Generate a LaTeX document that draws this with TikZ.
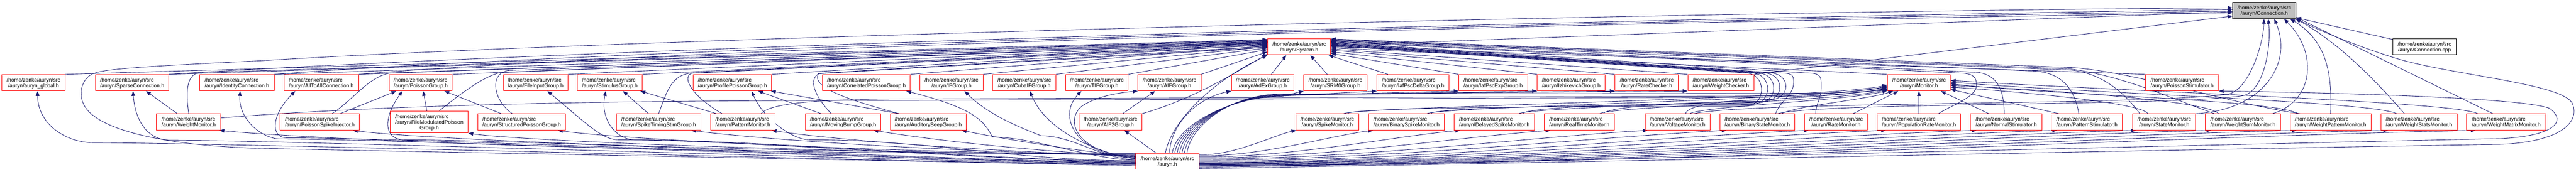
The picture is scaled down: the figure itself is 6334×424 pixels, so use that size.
\documentclass[tikz,border=0pt]{standalone}
\usepackage{fontspec}
\setmainfont{Liberation Sans}
\usetikzlibrary{arrows.meta}
\definecolor{edgec}{HTML}{191970}
\definecolor{boxred}{HTML}{FF0000}
\definecolor{grayf}{HTML}{BFBFBF}
\pgfdeclarelayer{bgl}
\pgfdeclarelayer{edgel}
\pgfsetlayers{bgl,edgel,main}
\newcommand{\lbl}[1]{\raisebox{-2pt}[\height][\depth]{\begin{tabular}{@{}c@{}}\multicolumn{1}{@{}l@{}}{/home/zenke/auryn/src}\\#1\end{tabular}}}
\newcommand{\nd}[6][rbox]{\node[#1,minimum width=#5pt] (#2) at (#3,#4) {\lbl{#6}};}
\tikzset{
 rbox/.style={draw=boxred, fill=white, line width=1.2pt, inner sep=0pt, minimum height=40pt, font=\fontsize{13}{14}\selectfont},
 gbox/.style={rbox, draw=black, fill=grayf},
 kbox/.style={rbox, draw=black},
 ed/.style={draw=edgec, line width=1.1pt, -{Triangle[length=12pt,width=9pt]}},
}
\begin{document}
\begin{tikzpicture}[x=1pt,y=-1pt]
\useasboundingbox (0,0) rectangle (6334,424);
\begin{pgfonlayer}{bgl}
\fill[white] (0,0) rectangle (6334,424);
\end{pgfonlayer}
% ---------- nodes
\nd[gbox]{cn}{5567.5}{26}{155}{/auryn/Connection.h}
\nd{sys}{3194.5}{115.5}{155}{/auryn/System.h}
\nd[kbox]{cpp}{5961.5}{115}{155}{/auryn/Connection.cpp}
% row A
\nd{glob}{82.5}{204}{155}{/auryn/auryn\_global.h}
\nd{sparse}{325}{204}{180}{/auryn/SparseConnection.h}
\nd{ident}{582.5}{204}{183}{/auryn/IdentityConnection.h}
\nd{a2a}{790}{204}{184}{/auryn/AllToAllConnection.h}
\nd{pois}{1034.5}{204}{155}{/auryn/PoissonGroup.h}
\nd{fin}{1317}{204}{158}{/auryn/FileInputGroup.h}
\nd{stim}{1499.5}{204}{159}{/auryn/StimulusGroup.h}
\nd{prof}{1801}{204}{192}{/auryn/ProfilePoissonGroup.h}
\nd{corr}{2130.5}{204}{215}{/auryn/CorrelatedPoissonGroup.h}
\nd{ifg}{2339.5}{204}{155}{/auryn/IFGroup.h}
\nd{cuba}{2518.5}{204}{155}{/auryn/CubaIFGroup.h}
\nd{tif}{2697}{204}{154}{/auryn/TIFGroup.h}
\nd{aif}{2875.5}{204}{155}{/auryn/AIFGroup.h}
\nd{adex}{3105}{204}{154}{/auryn/AdExGroup.h}
\nd{srm}{3283.5}{204}{155}{/auryn/SRM0Group.h}
\nd{ipd}{3474.5}{204}{177}{/auryn/IafPscDeltaGroup.h}
\nd{ipe}{3671.5}{204}{169}{/auryn/IafPscExpGroup.h}
\nd{izh}{3863.5}{204}{167}{/auryn/IzhikevichGroup.h}
\nd{rchk}{4049}{204}{156}{/auryn/RateChecker.h}
\nd{wchk}{4231.5}{204}{163}{/auryn/WeightChecker.h}
\nd{mon}{4718.5}{204}{155}{/auryn/Monitor.h}
\nd{pstim}{5365.5}{204}{179}{/auryn/PoissonStimulator.h}
% row B
\nd{wmon}{464}{301}{158}{/auryn/WeightMonitor.h}
\nd{psi}{786.5}{301}{195}{/auryn/PoissonSpikeInjector.h}
\node[rbox, minimum width=191pt, minimum height=54pt] (fmp) at (1055.5,301) {\raisebox{-2pt}[\height][\depth]{\begin{tabular}{@{}c@{}}\multicolumn{1}{@{}l@{}}{/home/zenke/auryn/src}\\/auryn/FileModulatedPoisson\\Group.h\end{tabular}}};
\nd{spg}{1282.5}{301}{215}{/auryn/StructuredPoissonGroup.h}
\nd{stsg}{1619.5}{301}{207}{/auryn/SpikeTimingStimGroup.h}
\nd{patm}{1826.5}{301}{159}{/auryn/PatternMonitor.h}
\nd{mbg}{2073}{301}{184}{/auryn/MovingBumpGroup.h}
\nd{abg}{2282.5}{301}{187}{/auryn/AuditoryBeepGroup.h}
\nd{aif2}{2730.5}{301}{155}{/auryn/AIF2Group.h}
\nd{smon}{3263.5}{301}{155}{/auryn/SpikeMonitor.h}
\nd{bsm}{3458.5}{301}{187}{/auryn/BinarySpikeMonitor.h}
\nd{dsm}{3674.5}{301}{197}{/auryn/DelayedSpikeMonitor.h}
\nd{rtm}{3883.5}{301}{173}{/auryn/RealTimeMonitor.h}
\nd{vmon}{4125}{301}{160}{/auryn/VoltageMonitor.h}
\nd{bstm}{4321}{301}{184}{/auryn/BinaryStateMonitor.h}
\nd{rmon}{4514.5}{301}{155}{/auryn/RateMonitor.h}
\nd{prm}{4718.5}{301}{205}{/auryn/PopulationRateMonitor.h}
\nd{nstim}{4933}{301}{176}{/auryn/NormalStimulator.h}
\nd{patst}{5131.5}{301}{175}{/auryn/PatternStimulator.h}
\nd{stmon}{5321.5}{301}{155}{/auryn/StateMonitor.h}
\nd{wsum}{5515}{301}{184}{/auryn/WeightSumMonitor.h}
\nd{wpat}{5730.5}{301}{199}{/auryn/WeightPatternMonitor.h}
\nd{wstat}{5948}{301}{188}{/auryn/WeightStatsMonitor.h}
\nd{wmat}{6162.5}{301}{195}{/auryn/WeightMatrixMonitor.h}
% bottom
\nd{au}{2870.5}{398}{155}{/auryn.h}
% ---------- edges
\begin{pgfonlayer}{edgel}
% to Connection.h
\draw[ed] (sys) -- (cn);
\draw[ed] (cpp) -- (cn);
\draw[ed] (sparse.north east) .. controls (900,150) and (3000,62) .. (cn.178);
\draw[ed] (ident.north east) .. controls (1200,142) and (3100,64) .. (cn.181);
\draw[ed] (a2a.north east) .. controls (1500,132) and (3300,64) .. (cn.184);
\draw[ed] (wchk.north east) -- (cn.190);
\draw[ed] ([xshift=40pt]vmon.north) .. controls (4300,250) and (5300,260) .. (5480,232) .. controls (5530,220) and (5565,110) .. (cn.-92);
\draw[ed] ([xshift=50pt]bstm.north) .. controls (4480,252) and (5350,262) .. (5515,236) .. controls (5565,226) and (5585,120) .. (cn.-65);
\draw[ed] (stmon.north east) .. controls (5560,272) and (5640,160) .. (cn.-40);
\draw[ed] ([xshift=-20pt]wsum.north east) .. controls (5690,250) and (5700,130) .. (cn.-23);
\draw[ed] (wpat.north) .. controls (5735,180) and (5720,100) .. (cn.-18);
\draw[ed] ([xshift=-36pt]wstat.north) .. controls (5860,220) and (5760,110) .. (cn.-15);
\draw[ed] ([xshift=-33pt]wmat.north) -- (cn.-12);
\draw[ed] (au.188) .. controls (2000,392) and (900,372) .. (640,366) .. controls (420,360) and (250,325) .. (210,265) .. controls (190,235) and (200,195) .. (228,182) .. controls (255,172) and (300,166) .. (640,150) .. controls (1500,96) and (4000,30) .. (cn.175);
\draw[ed] (au.-13) .. controls (4000,398) and (5300,370) .. (6150,356) .. controls (6290,350) and (6345,305) .. (6325,255) .. controls (6300,205) and (6020,185) .. (5885,142) .. controls (5800,115) and (5700,75) .. (cn.-14);
\draw[ed] (au.-11) .. controls (4000,394) and (5300,360) .. (6150,342) .. controls (6280,335) and (6312,300) .. (6270,268) .. controls (6210,240) and (5700,228) .. (pstim.south east);
% row A to System.h
\draw[ed] (glob.north east) -- (sys.167);
\draw[ed] (sparse.north east) -- (sys.169);
\draw[ed] (ident.north east) -- (sys.170);
\draw[ed] (a2a.north east) -- (sys.171);
\draw[ed] (pois.north east) -- (sys.172);
\draw[ed] (fin.north east) -- (sys.173);
\draw[ed] (stim.north east) -- (sys.174);
\draw[ed] (prof.north east) -- (sys.176);
\draw[ed] (corr.north east) -- (sys.178);
\draw[ed] (ifg.north east) -- (sys.180);
\draw[ed] (cuba.north east) -- (sys.182);
\draw[ed] (tif.north east) -- (sys.185);
\draw[ed] (aif.north east) -- (sys.189);
\draw[ed] ([xshift=21pt]adex.north) -- (sys.213);
\draw[ed] ([xshift=-20pt]srm.north) -- (sys.-37);
\draw[ed] ([xshift=-62pt]ipd.north) -- (sys.-16);
\draw[ed] (ipe.north west) -- (sys.-12);
\draw[ed] (izh.north west) -- (sys.-9);
\draw[ed] (rchk.north west) -- (sys.-6);
\draw[ed] (wchk.north west) -- (sys.-4);
\draw[ed] (mon.north west) -- (sys.-2);
\draw[ed] (pstim.north west) -- (sys.0);
% row B (left) to System.h
\draw[ed] (wmon.north) .. controls (458,235) and (455,185) .. (490,179) -- (sys.168);
\draw[ed] ([xshift=30pt]psi.north) .. controls (870,245) and (905,190) .. (960,180) -- (sys.171);
\draw[ed] ([xshift=25pt]fmp.north) .. controls (1130,232) and (1200,181) .. (1235,179) -- (sys.172);
\draw[ed] ([xshift=-23pt]spg.north) .. controls (1215,250) and (1200,182) .. (1250,174) -- (sys.173);
\draw[ed] (stsg.north) .. controls (1640,225) and (1650,186) .. (1700,180) -- (sys.175);
\draw[ed] ([xshift=-51pt]patm.north) .. controls (1705,240) and (1675,192) .. (1700,181) -- (sys.177);
\draw[ed] ([xshift=-29pt]mbg.north) .. controls (2005,240) and (1985,195) .. (2015,181) -- (sys.179);
\draw[ed] ([xshift=-72pt]abg.north) .. controls (2080,245) and (1995,215) .. (2012,182) -- (sys.181);
\draw[ed] (aif2.north east) .. controls (2930,245) and (3020,190) .. (sys.193);
\draw[ed] ([xshift=-5pt]au.north) .. controls (2880,300) and (2980,200) .. (sys.south west);
% row B (right) to System.h
\draw[ed] ([xshift=50pt]smon.north) .. controls +(0,-18) and +(-200,0) .. (4290,262) .. controls +(55,0) and +(55,0) .. (4290,180) -- (sys.2);
\draw[ed] ([xshift=60pt]bsm.north) .. controls +(0,-18) and +(-200,0) .. (4305,258) .. controls +(55,0) and +(55,0) .. (4305,180) -- (sys.3);
\draw[ed] ([xshift=70pt]dsm.north) .. controls +(0,-18) and +(-200,0) .. (4320,254) .. controls +(55,0) and +(55,0) .. (4320,180) -- (sys.4);
\draw[ed] ([xshift=60pt]rtm.north) .. controls +(0,-18) and +(-150,0) .. (4335,250) .. controls +(55,0) and +(55,0) .. (4335,180) -- (sys.5);
\draw[ed] ([xshift=20pt]vmon.north) .. controls +(0,-18) and +(-120,0) .. (4350,246) .. controls +(55,0) and +(55,0) .. (4350,180) -- (sys.6);
\draw[ed] ([xshift=45pt]bstm.north) .. controls +(10,-30) and +(0,30) .. (4410,205) .. controls +(0,-20) and +(40,0) .. (4370,180) -- (sys.7);
\draw[ed] ([xshift=-50pt]rmon.north) .. controls +(0,-25) and +(0,30) .. (4478,215) .. controls +(0,-25) and +(40,0) .. (4440,180) -- (sys.8);
\draw[ed] ([xshift=48pt]prm.north) .. controls +(30,-20) and +(0,30) .. (4860,210) .. controls +(0,-22) and +(40,0) .. (4810,180) -- (sys.9);
\draw[ed] ([xshift=-5pt]nstim.north) .. controls +(0,-60) and +(60,0) .. (4850,178) -- (sys.10);
\draw[ed] ([xshift=-20pt]patst.north) .. controls +(-10,-60) and +(80,0) .. (4990,175) -- (sys.11);
\draw[ed] ([xshift=-60pt]stmon.north) .. controls +(-40,-55) and +(90,0) .. (5070,172) -- (sys.12);
\draw[ed] ([xshift=-70pt]wsum.north) .. controls (5330,240) and (5230,190) .. (5090,170) -- (sys.13);
\draw[ed] ([xshift=-75pt]wpat.north) .. controls (5480,255) and (5260,180) .. (5100,167) -- (sys.14);
% row B to row A parents
\draw[ed] ([xshift=-28pt]wmon.north) -- ([xshift=34pt]sparse.south);
\draw[ed] ([xshift=50pt]psi.north) -- ([xshift=-60pt]pois.south);
\draw[ed] ([xshift=-6pt]fmp.north) -- ([xshift=6pt]pois.south);
\draw[ed] ([xshift=-50pt]spg.north) -- ([xshift=58pt]pois.south);
\draw[ed] ([xshift=-25pt]stsg.north) -- ([xshift=32pt]stim.south);
\draw[ed] ([xshift=-65pt]patm.north) -- ([xshift=75pt]stim.south);
\draw[ed] ([xshift=-54pt]mbg.north) -- ([xshift=63pt]prof.south);
\draw[ed] ([xshift=-72pt]abg.north) -- ([xshift=-2pt]prof.south east);
\draw[ed] ([xshift=30pt]aif2.north) -- ([xshift=-35pt]aif.south);
% to Monitor.h
\draw[ed] ([yshift=10pt]wmon.east) .. controls (900,262) and (1400,248) .. (2100,248) -- (4300,240) .. controls (4500,239) and (4590,226) .. (mon.191);
\draw[ed] ([xshift=45pt]patm.north) .. controls +(25,-30) and +(-200,0) .. (2250,244) -- (4300,237) .. controls (4480,236) and (4590,223) .. (mon.188);
\draw[ed] ([xshift=40pt]smon.north) .. controls +(40,-18) and +(-150,35) .. (mon.184);
\draw[ed] ([xshift=50pt]bsm.north) .. controls +(40,-18) and +(-150,35) .. (mon.186);
\draw[ed] ([xshift=60pt]dsm.north) .. controls +(40,-18) and +(-150,35) .. (mon.189);
\draw[ed] ([xshift=50pt]rtm.north) .. controls +(30,-18) and +(-120,30) .. (mon.192);
\draw[ed] ([xshift=30pt]vmon.north) .. controls +(30,-18) and +(-100,25) .. (mon.194);
\draw[ed] ([xshift=60pt]bstm.north) .. controls +(30,-18) and +(-60,20) .. (mon.198);
\draw[ed] ([xshift=42pt]rmon.north) -- (mon.202);
\draw[ed] (prm.north) -- (mon.south);
\draw[ed] ([xshift=-43pt]nstim.north) -- (mon.-21);
\draw[ed] ([xshift=-69pt]patst.north) -- (mon.-12);
\draw[ed] ([xshift=-40pt]stmon.north) .. controls +(-20,-30) and +(120,8) .. (mon.-8);
\draw[ed] ([xshift=-60pt]wsum.north) .. controls +(-30,-35) and +(180,8) .. (mon.-5);
\draw[ed] ([xshift=-80pt]wpat.north) .. controls +(-60,-35) and +(250,28) .. (mon.-2);
\draw[ed] ([xshift=-55pt]wstat.north) .. controls +(-60,-30) and +(350,28) .. (mon.1);
\draw[ed] ([xshift=-70pt]wmat.north) .. controls +(-60,-30) and +(450,28) .. (mon.4);
% auryn.h to row A (left)
\draw[ed] (au.186) .. controls +(-300,0) and +(300,0) .. (230,352) .. controls +(-70,0) and +(0,80) .. ([xshift=10pt]glob.south);
\draw[ed] (au.185) .. controls +(-300,0) and +(300,0) .. (420,346) .. controls +(-60,0) and +(5,70) .. ([xshift=2pt]sparse.south);
\draw[ed] (au.184) .. controls +(-300,0) and +(300,0) .. (690,343) .. controls +(-45,0) and +(-5,70) .. ([xshift=8pt]ident.south);
\draw[ed] (au.183) .. controls +(-300,0) and +(300,0) .. (705,340) .. controls +(-40,0) and +(-60,60) .. ([xshift=-64pt]a2a.south);
\draw[ed] (au.182) .. controls +(-300,0) and +(300,0) .. (995,345) .. controls +(-50,0) and +(-50,70) .. ([xshift=-45pt]pois.south);
\draw[ed] (au.181) .. controls +(-300,0) and +(300,0) .. (1520,345) .. controls +(-40,0) and +(90,75) .. ([xshift=29pt]fin.south);
\draw[ed] (au.180) .. controls +(-300,0) and +(300,0) .. (1560,345) .. controls +(-40,0) and +(-15,75) .. ([xshift=-10pt]stim.south);
\draw[ed] (au.179) .. controls +(-300,0) and +(300,0) .. (1990,345) .. controls +(-40,0) and +(30,70) .. ([xshift=47pt]prof.south);
\draw[ed] (au.178) .. controls +(-100,0) and +(100,0) .. (2440,338) .. controls +(-20,-38) and +(172,44) .. ([xshift=98pt]corr.south);
\draw[ed] (au.177) .. controls +(-80,0) and +(80,0) .. (2560,335) .. controls +(-50,-20) and +(60,60) .. ([xshift=32pt]ifg.south);
\draw[ed] (au.176) .. controls (2690,375) and (2570,320) .. ([xshift=14pt]cuba.south);
\draw[ed] (au.175) .. controls (2640,382) and (2600,285) .. ([xshift=-38pt]tif.south);
\draw[ed] (au.174) .. controls (2650,378) and (2615,300) .. (2660,262) .. controls (2700,235) and (2760,228) .. (aif.south west);
% auryn.h to row A (right)
\draw[ed] ([xshift=5pt]au.north) .. controls (2880,300) and (2950,240) .. (adex.south west);
\draw[ed] ([xshift=12pt]au.north) .. controls +(10,-70) and +(-120,0) .. (3150,238) -- (srm.south west);
\draw[ed] ([xshift=18pt]au.north) .. controls +(10,-70) and +(-120,0) .. (3150,237) -- (ipd.south west);
\draw[ed] ([xshift=24pt]au.north) .. controls +(10,-70) and +(-120,0) .. (3150,236) -- (ipe.south west);
\draw[ed] ([xshift=30pt]au.north) .. controls +(10,-70) and +(-120,0) .. (3150,235) -- (izh.south west);
\draw[ed] ([xshift=36pt]au.north) .. controls +(10,-70) and +(-120,0) .. (3150,234) -- (rchk.south west);
\draw[ed] ([xshift=42pt]au.north) .. controls +(10,-70) and +(-120,0) .. (3150,233) -- (wchk.south west);
\draw[ed] ([xshift=48pt]au.north) .. controls +(10,-70) and +(-120,0) .. (3150,232) -- (4450,230) .. controls (4560,229) and (4610,224) .. (mon.193);
% auryn.h to row B (left)
\draw[ed] (au.166) .. controls (1500,382) and (700,338) .. ([xshift=-4pt]wmon.south east);
\draw[ed] (au.167) .. controls (1700,376) and (1000,340) .. ([xshift=-17pt]psi.south east);
\draw[ed] (au.168) .. controls (1900,375) and (1260,345) .. (fmp.south east);
\draw[ed] (au.169) .. controls (2000,372) and (1480,338) .. ([xshift=-19pt]spg.south east);
\draw[ed] (au.170) .. controls (2200,370) and (1820,338) .. ([xshift=-24pt]stsg.south east);
\draw[ed] (au.171) .. controls (2300,368) and (2000,338) .. ([xshift=-9pt]patm.south east);
\draw[ed] (au.172) .. controls (2420,364) and (2230,335) .. ([xshift=-18pt]mbg.south east);
\draw[ed] (au.173) .. controls (2560,360) and (2430,335) .. ([xshift=-12pt]abg.south east);
\draw[ed] ([xshift=-28pt]au.north) -- ([xshift=34pt]aif2.south);
% auryn.h to row B (right)
\draw[ed] (au.12) .. controls (3032,385) and (3128,335) .. ([xshift=2pt]smon.south west);
\draw[ed] (au.10) .. controls (3098,387) and (3270,335) .. ([xshift=12pt]bsm.south west);
\draw[ed] (au.8) .. controls (3173,389) and (3430,336) .. ([xshift=15pt]dsm.south west);
\draw[ed] (au.6) .. controls (3251,391) and (3597,337) .. ([xshift=16pt]rtm.south west);
\draw[ed] (au.4) .. controls (3334,393) and (3776,337) .. ([xshift=7pt]vmon.south west);
\draw[ed] (au.2) .. controls (3402,395) and (3922,338) .. ([xshift=17pt]bstm.south west);
\draw[ed] (au.0) .. controls (3473,398) and (4073,338) .. ([xshift=11pt]rmon.south west);
\draw[ed] (au.-2) .. controls (3540,400) and (4216,338) .. ([xshift=22pt]prm.south west);
\draw[ed] (au.-3) .. controls (3618,401) and (4383,338) .. ([xshift=16pt]nstim.south west);
\draw[ed] (au.-4) .. controls (3687,402) and (4531,338) .. ([xshift=15pt]patst.south west);
\draw[ed] (au.-5) .. controls (3755,403) and (4677,338) .. ([xshift=9pt]stmon.south west);
\draw[ed] (au.-6) .. controls (3820,404) and (4816,338) .. ([xshift=15pt]wsum.south west);
\draw[ed] (au.-7) .. controls (3893,405) and (4973,338) .. ([xshift=17pt]wpat.south west);
\draw[ed] (au.-8) .. controls (3972,406) and (5142,338) .. ([xshift=19pt]wstat.south west);
\draw[ed] (au.-9) .. controls (4047,407) and (5303,338) .. ([xshift=23pt]wmat.south west);
\end{pgfonlayer}
\end{tikzpicture}
\end{document}
